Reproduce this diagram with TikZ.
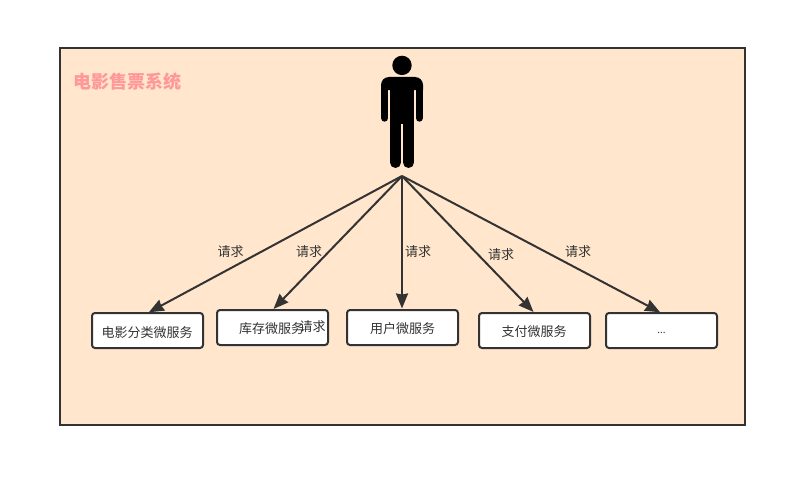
\documentclass[tikz,border=0pt]{standalone}
\usepackage{fontspec}
\usetikzlibrary{arrows.meta}
\setmainfont{Noto Sans CJK SC}
\definecolor{linecol}{HTML}{333333}
\definecolor{bgcol}{HTML}{FFE6CC}
\definecolor{titlecol}{HTML}{FF9999}
\tikzset{
  svcbox/.style={draw=linecol,line width=2pt,fill=white,rounded corners=3pt,minimum width=111pt,minimum height=35pt,inner sep=0pt,outer sep=0pt},
  svctext/.style={font=\fontsize{13}{15}\selectfont,text=linecol,inner sep=0pt},
  req/.style={-{Stealth[length=15pt,width=12pt,inset=1pt]},draw=linecol,line width=2pt,shorten >=1.5pt},
  reqlabel/.style={font=\fontsize{13}{15}\selectfont,text=linecol,inner sep=0pt},
  limb/.style={draw=black,line cap=round},
}
\begin{document}
\begin{tikzpicture}[x=1pt,y=-1pt]
\useasboundingbox (0,0) rectangle (806,487);
\node[draw=linecol,line width=2pt,fill=bgcol,minimum width=685pt,minimum height=377pt,inner sep=0pt,outer sep=0pt] (frame) at (402.5,236.5) {};
\node[font=\fontsize{18}{20}\selectfont\bfseries,text=titlecol,inner sep=0pt,anchor=west] (title) at (73.5,81.5) {电影售票系统};
% person
\fill[black] (402,65.4) circle (9.7);
\fill[black] (381,90) [rounded corners=8pt] -- (381,77) -- (423,77) [sharp corners] -- (423,90) -- cycle;
\fill[black] (390,85) rectangle (414,124);
\draw[limb,line width=7.4pt] (384.7,86) -- (384.7,118);
\draw[limb,line width=7.4pt] (419.3,86) -- (419.3,118);
\draw[limb,line width=11pt] (395.5,110) -- (395.5,162.5);
\draw[limb,line width=11pt] (408.5,110) -- (408.5,162.5);
\coordinate (src) at (402,176);
% boxes
\node[svcbox] (b1) at (147.5,330.5) {};
\node[svcbox] (b2) at (272.5,327.5) {};
\node[svcbox] (b3) at (402.5,327.5) {};
\node[svcbox] (b4) at (534.5,330.5) {};
\node[svcbox] (b5) at (661.5,330.5) {};
\node[svctext] (t1) at (147,332.5) {电影分类微服务};
\node[svctext] (t2) at (271.5,329) {库存微服务};
\node[svctext] (t3) at (402.5,328.5) {用户微服务};
\node[svctext] (t4) at (534,332) {支付微服务};
\node[svctext,font=\fontsize{10}{11}\selectfont] (t5) at (661.5,333) {...};
% connectors
\draw[req] (src) -- (b1.north);
\draw[req] (src) -- (b2.north);
\draw[req] (src) -- (src |- b3.north);
\draw[req] (src) -- (b4.north);
\draw[req] (src) -- (b5.north);
\node[reqlabel] (l1) at (230.5,251.5) {请求};
\node[reqlabel] (l2) at (309,251.5) {请求};
\node[reqlabel] (l3) at (418,251.5) {请求};
\node[reqlabel] (l4) at (501,254.5) {请求};
\node[reqlabel] (l5) at (578,251.5) {请求};
\node[reqlabel] (l6) at (312.5,327) {请求};
\end{tikzpicture}
\end{document}
